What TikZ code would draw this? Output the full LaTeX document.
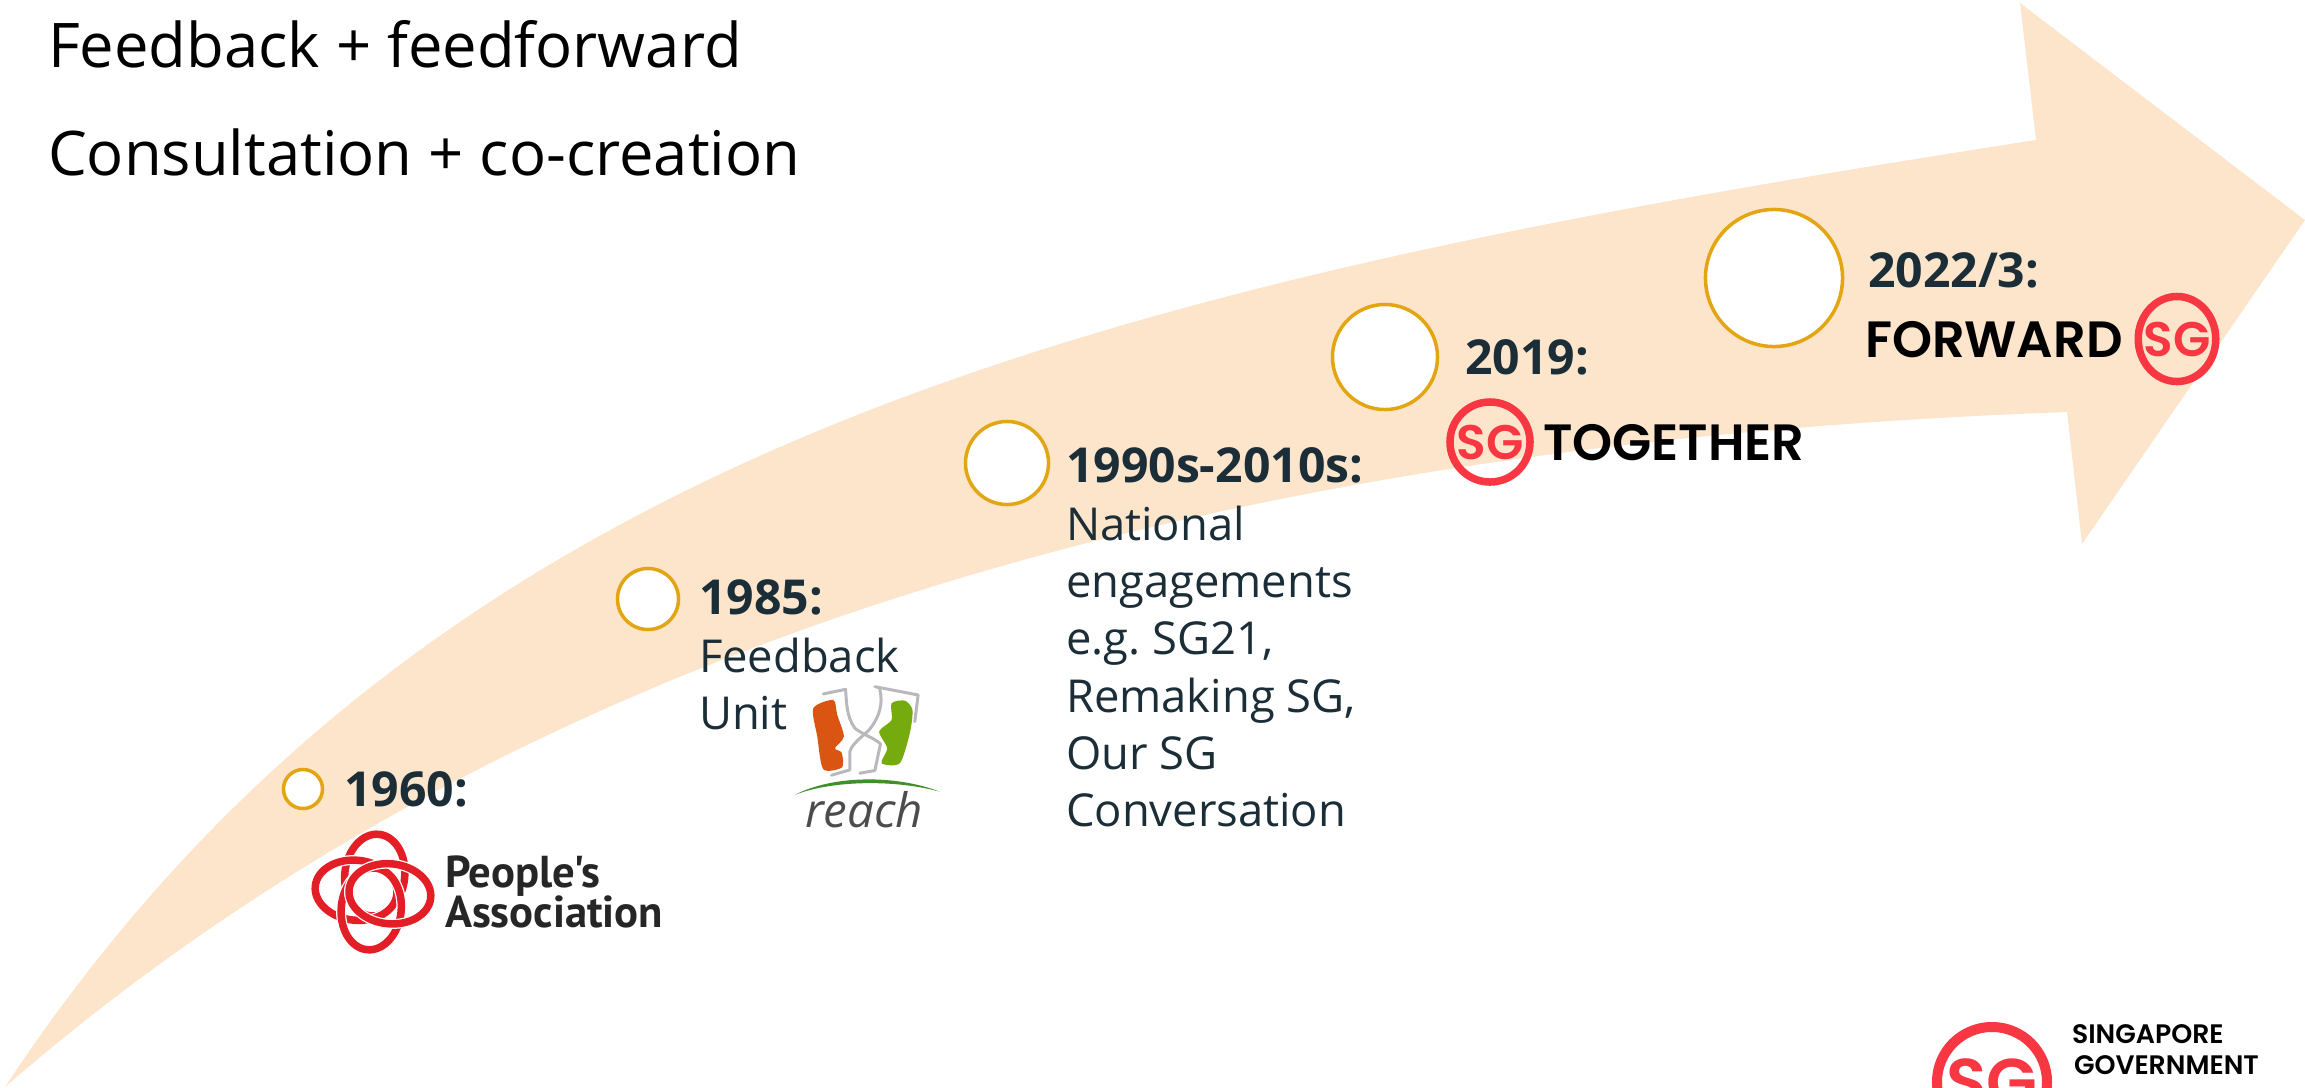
\documentclass[tikz,border=0pt]{standalone}
\usepackage{xcolor}
\usepackage{fontspec}
\setmainfont{Open Sans}
\newfontfamily\logofont{Poppins}[UprightFont=* Medium,BoldFont=* SemiBold]
\newfontfamily\assocfont{PT Sans}
\usetikzlibrary{shapes.geometric,calc}
\definecolor{swoosh}{HTML}{FDE5CC}
\definecolor{rim}{HTML}{E3A512}
\definecolor{ink}{HTML}{1B2E37}
\definecolor{sgred}{HTML}{F93742}
\definecolor{ringred}{HTML}{E31E26}
\definecolor{facegrey}{HTML}{B9B9BD}
\definecolor{faceorange}{HTML}{DA5412}
\definecolor{facegreen}{HTML}{76AB0F}
\definecolor{arcgreen}{HTML}{3F8F2B}
\newcommand{\yr}[1]{{\fontsize{13.7}{16.3}\selectfont\bfseries #1}}

\begin{document}
\begin{tikzpicture}[x=0.01cm,y=-0.01cm,inner sep=0pt,outer sep=0pt]
    \tikzstyle{every node}=[text=ink]
    \tikzstyle{dot}=[circle,draw=rim,line width=0.035cm,fill=white]
    \tikzstyle{entry}=[anchor=north west,align=left,font=\fontsize{12.9}{16.3}\selectfont]
    \tikzstyle{slogan}=[anchor=base west,text=black,font=\fontsize{17.5}{20}\selectfont]
    \tikzstyle{badge}=[draw=sgred,line width=0.075cm,fill=none,text=sgred,inner sep=-0.06cm,
      font=\fontsize{13.8}{14}\logofont\bfseries\selectfont]
    \tikzstyle{wordmark}=[anchor=base west,text=black,font=\fontsize{14.5}{15}\logofont\bfseries\selectfont]
    \tikzstyle{assocline}=[anchor=base west,text=black!85,font=\fontsize{12.7}{11.4}\assocfont\bfseries\selectfont]
    \tikzstyle{govline}=[anchor=base west,text=black,font=\fontsize{7.6}{8}\logofont\bfseries\selectfont]
    \tikzstyle{facerule}=[facegrey,line width=0.03cm,line join=round,line cap=round]
    \useasboundingbox (0,0) rectangle (2305,1087);
    \clip (0,0) rectangle (2305,1087);

    % swoosh
    \fill[swoosh] (5,1087) .. controls (430,443) and (1100,285) .. (2036,140)
      -- (2020,3) -- (2305,220) -- (2082,544) -- (2067,412)
      .. controls (1300,440) and (560,605) .. (5,1087) -- cycle;

    \node[slogan] (feedback) at (48,67)  {Feedback + feedforward};
    \node[slogan] (consult)  at (48,175) {Consultation + co-creation};

    % milestones
    \node[dot,minimum size=0.39cm] (d1960) at (303,789)  {};
    \node[dot,minimum size=0.61cm] (d1985) at (648,599)  {};
    \node[dot,minimum size=0.83cm] (d1990) at (1007,463) {};
    \node[dot,minimum size=1.05cm] (d2019) at (1385,357) {};
    \node[dot,minimum size=1.37cm] (d2022) at (1774,278) {};

    \node[entry] (t1960) at (344,772) {\yr{1960:}};
    \node[entry] (t1985) at (699,580)
      {\yr{1985:}\\Feedback\\Unit};
    \node[entry] (t1990) at (1066,448)
      {\yr{1990s-2010s:}\\National\\engagements\\e.g.\ SG21,\\Remaking SG,\\Our SG\\Conversation};
    \node[entry] (t2019) at (1465,340) {\yr{2019:}};
    \node[entry] (t2022) at (1868,253) {\yr{2022/3:}};

    % People's Association
    \coordinate (ring) at (373,892);
    \foreach \a in {0,90,180,270} {
      \draw[white,line width=0.10cm,rotate around={\a-6:(ring)}]
        ($(ring)+(0,-17)$) ellipse [x radius=30,y radius=41];
      \draw[ringred,line width=0.075cm,rotate around={\a-6:(ring)}]
        ($(ring)+(0,-17)$) ellipse [x radius=30,y radius=41];
    }
    \node[assocline] (assoc)  at (445,887) {People's};
    \node[assocline] (assoc2) at (445,927) {Association};

    % reach
    \begin{scope}[shift={(780,680)},x=0.00333cm,y=-0.00333cm]
      \draw[facerule] (130,42) -- (197,28) .. controls (200,70) and (200,110) .. (225,145)
        .. controls (250,165) and (285,175) .. (302,192) -- (285,272) -- (240,280);
      \draw[facerule] (285,20) -- (415,45) -- (405,125);
      \draw[facerule] (300,28) .. controls (310,70) and (300,110) .. (268,150)
        .. controls (240,175) and (215,195) .. (210,215) -- (210,270) -- (155,286);
      \fill[faceorange] plot[smooth cycle,tension=0.45] coordinates
        {(100,85) (160,60) (172,105) (192,170) (165,205) (185,218) (187,262) (130,268) (112,170)};
      \fill[facegreen] plot[smooth cycle,tension=0.45] coordinates
        {(335,70) (375,62) (398,90) (390,160) (360,250) (305,250) (322,205) (298,155) (335,120)};
      \fill[arcgreen] (45,345) .. controls (160,285) and (350,285) .. (478,335)
        .. controls (350,300) and (160,300) .. (45,345) -- cycle;
    \end{scope}
    \node[anchor=base west,text=black!70,font=\fontsize{13.5}{15}\itshape\selectfont]
      (reach) at (805,827) {reach};

    % SG marks
    \node[badge,circle,minimum size=0.80cm] (sgtogether) at (1490,442) {SG};
    \node[wordmark] (together) at (1543,460) {TOGETHER};
    \node[wordmark] (forward)  at (1865,357) {FORWARD};
    \node[badge,ellipse,minimum width=0.76cm,minimum height=0.85cm] (sgforward) at (2177,339) {SG};
    \node[badge,line width=0.10cm,circle,minimum size=1.10cm,
      font=\fontsize{18.8}{19}\logofont\bfseries\selectfont] (sgcorner) at (1992,1082) {SG};
    \node[govline] (singapore)  at (2072,1043) {SINGAPORE};
    \node[govline] (government) at (2074,1074) {GOVERNMENT};
\end{tikzpicture}
\end{document}
